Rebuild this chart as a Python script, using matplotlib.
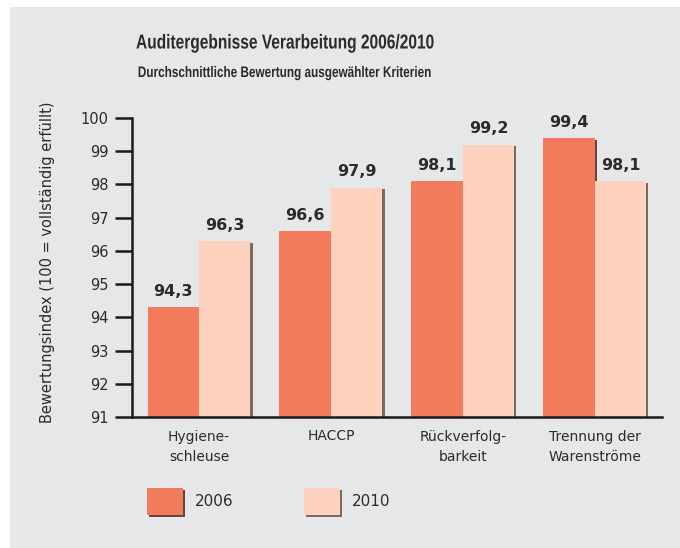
import matplotlib
matplotlib.use('Agg')
import matplotlib.pyplot as plt
import matplotlib.patches as mpatches
import matplotlib.patheffects as pe
from matplotlib.transforms import Affine2D
import numpy as np

# daten aus der grafik
kriterien = ['Hygiene-\nschleuse', 'HACCP', 'Rückverfolg-\nbarkeit', 'Trennung der\nWarenströme']
werte_2006 = [94.3, 96.6, 98.1, 99.4]
werte_2010 = [96.3, 97.9, 99.2, 98.1]
jahre = ['2006', '2010']
y_ticks = [91, 92, 93, 94, 95, 96, 97, 98, 99, 100]

farbe_2006 = '#f27b5b'
farbe_2010 = '#fdd2bf'
hintergrund = '#e6e7e9'
text_farbe = '#2b2b2b'


class Schmal(pe.AbstractPathEffect):
    # schrift horizontal stauchen (schmale schrift gibt es hier nicht)
    def __init__(self, mitte_x, faktor):
        super().__init__()
        self.mitte_x = mitte_x
        self.faktor = faktor

    def draw_path(self, renderer, gc, tpath, affine, rgbFace=None):
        t = affine + Affine2D().translate(-self.mitte_x, 0).scale(self.faktor, 1).translate(self.mitte_x, 0)
        renderer.draw_path(gc, tpath, t, rgbFace)


fig = plt.figure(figsize=(6.8, 5.48), dpi=100)
fig.patch.set_facecolor('white')
# grauer kasten (weißer rand oben/links)
fig.patches.append(mpatches.Rectangle((10 / 680, -0.1), 1.2, 1.1 - 7 / 548, transform=fig.transFigure,
                                      facecolor=hintergrund, edgecolor='none', zorder=-5))

ax = fig.add_axes([132 / 680, 1 - 417 / 548, (662 - 132) / 680, (417 - 118) / 548])
ax.set_facecolor('none')
ax.set_zorder(2)

x = np.arange(len(kriterien))
breite = 0.39
basis = 91

def schatten(farbe):
    return [pe.SimplePatchShadow(offset=(1.6, -1.2), shadow_rgbFace=farbe, alpha=0.9), pe.Normal()]

b1 = ax.bar(x - breite / 2, np.array(werte_2006) - basis, breite, bottom=basis,
            color=farbe_2006, path_effects=schatten('#5a3328'), zorder=2)
b2 = ax.bar(x + breite / 2, np.array(werte_2010) - basis, breite, bottom=basis,
            color=farbe_2010, path_effects=schatten('#6e5a52'), zorder=2)

for balken, werte in [(b1, werte_2006), (b2, werte_2010)]:
    for r, w in zip(balken, werte):
        ax.annotate(f'{w:.1f}'.replace('.', ','), (r.get_x() + r.get_width() / 2, w),
                    xytext=(0, 6), textcoords='offset points', ha='center', va='bottom',
                    fontsize=11.5, fontweight='bold', color=text_farbe)

ax.set_xlim(-0.508, 3.51)
ax.set_ylim(91, 100)
ax.set_yticks(y_ticks)
ax.set_yticklabels([str(t) for t in y_ticks], fontsize=10.5, color=text_farbe)
ax.set_xticks(x)
ax.set_xticklabels(kriterien, fontsize=10, color=text_farbe, linespacing=1.6)
ax.tick_params(axis='x', length=0, pad=9)
ax.tick_params(axis='y', length=12, width=1.8, color='#1a1a1a', pad=5)
for s in ['top', 'right']:
    ax.spines[s].set_visible(False)
for s in ['left', 'bottom']:
    ax.spines[s].set_linewidth(1.8)
    ax.spines[s].set_color('#1a1a1a')
    ax.spines[s].set_zorder(3)

fig.text(48 / 680, 1 - 262 / 548, 'Bewertungsindex (100 = vollständig erfüllt)', rotation=90,
         ha='center', va='center', fontsize=10.5, color=text_farbe)

fig.text(285 / 680, 1 - 43 / 548, 'Auditergebnisse Verarbeitung 2006/2010', ha='center', va='center',
         fontsize=14.5, fontweight='bold', color=text_farbe, family=['Liberation Sans', 'DejaVu Sans'],
         path_effects=[Schmal(285, 0.77)])
fig.text(285 / 680, 1 - 73 / 548, 'Durchschnittliche Bewertung ausgewählter Kriterien', ha='center',
         va='center', fontsize=11, fontweight='bold', color=text_farbe, family=['Liberation Sans', 'DejaVu Sans'],
         path_effects=[Schmal(285, 0.77)])

handles = [mpatches.Patch(facecolor=farbe_2006, path_effects=schatten('#5a3328')),
           mpatches.Patch(facecolor=farbe_2010, path_effects=schatten('#6e5a52'))]
fig.legend(handles, jahre, loc='upper left', bbox_to_anchor=(147 / 680, 1 - 488 / 548),
           ncol=2, frameon=False, fontsize=11, handlelength=2.35, handleheight=2.35,
           handletextpad=0.8, columnspacing=4.6, borderpad=0, borderaxespad=0,
           labelcolor=text_farbe)

fig.savefig('out.png', dpi=100, facecolor=fig.get_facecolor())
